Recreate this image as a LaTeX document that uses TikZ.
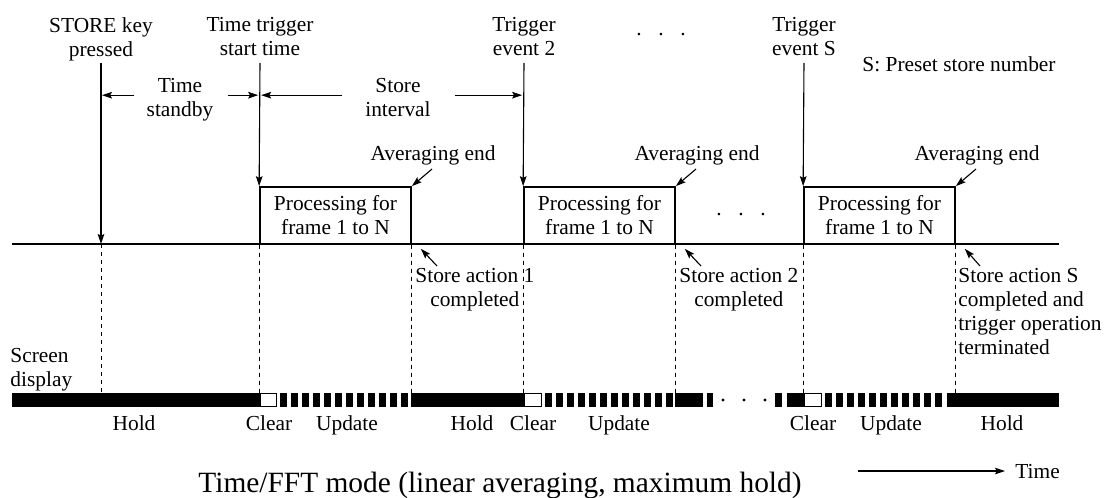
\documentclass[tikz,border=0pt]{standalone}
\usepackage{fontspec}
\setmainfont{Liberation Serif}
\usetikzlibrary{arrows.meta,positioning,calc}
\newcommand{\lblfont}{\fontsize{10.7}{12}\selectfont}
\newcommand{\capfont}{\fontsize{14.7}{17}\selectfont}
\tikzset{
  lbl/.style={align=center,inner sep=0pt,font=\lblfont},
  proc/.style={draw,line width=0.85pt,minimum width=75.5pt,minimum height=28.5pt,align=center,inner sep=0pt,font=\lblfont},
  ar/.style={-{Stealth[length=5pt,width=3.3pt,inset=0.9pt]},line width=0.55pt},
  guide/.style={line width=0.45pt,dash pattern=on 2pt off 2pt},
  axis/.style={line width=0.85pt},
  clr/.style={draw,fill=white,line width=0.5pt},
}

\begin{document}
\begin{tikzpicture}[x=0.5pt,y=-0.5pt]
\useasboundingbox (0,0) rectangle (1105,498);
% time axis
\coordinate (k) at (101,244);
\coordinate (a0) at (12,244);
\coordinate (a1) at (1059,244);
\coordinate (b0) at (12,393);
\draw[axis] (a0) -- (a1);

% processing blocks
\node[proc] (p1) at (335.5,215.5) {Processing for\\frame 1 to N};
\node[proc] (p2) at (599.5,215.5) {Processing for\\frame 1 to N};
\node[proc] (pS) at (879.5,215.5) {Processing for\\frame 1 to N};
\node[lbl,anchor=base] (dm) at (741,215) {.\hspace{8.3pt}.\hspace{8.3pt}.};

% events
\node[lbl,anchor=north] (kl) at (101,17) {STORE key\\pressed};
\node[lbl,anchor=north] (tl) at (260,17) {Time trigger\\start time};
\node[lbl,anchor=north] (l2) at (524,17) {Trigger\\event 2};
\node[lbl,anchor=north] (lS) at (804,17) {Trigger\\event S};
\node[lbl,anchor=base] (dt) at (661,35) {.\hspace{8.3pt}.\hspace{8.3pt}.};
\node[lbl,anchor=base west] (sn) at (862,71) {S: Preset store number};
\draw[ar] ([yshift=-23pt]kl.north) -- (k);
\draw[ar] ([yshift=-23pt]tl.north) -- (p1.north west);
\draw[ar] ([yshift=-23pt]l2.north) -- (p2.north west);
\draw[ar] ([yshift=-23pt]lS.north) -- (pS.north west);

% intervals
\node[lbl,anchor=north] (ts) at (180,78) {Time\\standby};
\draw[ar,shorten >=0.5pt] ([shift={(-6pt,2.3pt)}]ts.west) -- ([yshift=2.3pt]ts.west -| k);
\draw[ar,shorten >=0.5pt] ([shift={(7pt,2.3pt)}]ts.east) -- ([yshift=2.3pt]ts.east -| p1.north west);
\node[lbl,anchor=north] (si) at (398,78) {Store\\interval};
\draw[ar,shorten >=1pt] ([shift={(-11.7pt,1.2pt)}]si.west) -- ([yshift=1.2pt]si.west -| p1.north west);
\draw[ar,shorten >=0.5pt] ([shift={(12pt,1.2pt)}]si.east) -- ([yshift=1.2pt]si.east -| p2.north west);

% averaging end / store action
\node[lbl,anchor=base] (ae1) at (433,160) {Averaging end};
\node[lbl,anchor=base] (ae2) at (697,160) {Averaging end};
\node[lbl,anchor=base] (aeS) at (977,160) {Averaging end};
\draw[ar] ([shift={(-0.5pt,-2pt)}]ae1.south) -- (p1.north east);
\draw[ar] ([shift={(-0.5pt,-2pt)}]ae2.south) -- (p2.north east);
\draw[ar] ([shift={(-0.5pt,-2pt)}]aeS.south) -- (pS.north east);
\node[lbl,anchor=north west] (sa1) at (415,268) {Store action 1\\completed};
\node[lbl,anchor=north west] (sa2) at (679,268) {Store action 2\\completed};
\node[lbl,align=left,anchor=north west] (saS) at (958,268) {Store action S\\completed and\\trigger operation\\terminated};
\draw[ar] ([shift={(11pt,1pt)}]sa1.north west) -- ([shift={(4.5pt,-2pt)}]p1.south east);
\draw[ar] ([shift={(11pt,1pt)}]sa2.north west) -- ([shift={(4.5pt,-2pt)}]p2.south east);
\draw[ar] ([shift={(11pt,1pt)}]saS.north west) -- ([shift={(4.5pt,-2pt)}]pS.south east);

% guides down to the display bar
\foreach \n in {k,p1.south west,p1.south east,p2.south west,p2.south east,pS.south west,pS.south east}
  \draw[guide] (\n) -- (\n |- b0);

% display bar
\node[lbl,align=left,anchor=north west] (sd) at (10,348) {Screen\\display};
\fill (b0) rectangle (260,407);
\draw[clr] (260,393.5) rectangle (276,406.5);
\foreach \x in {280,291,...,401} \fill (\x,393) rectangle ++(7,14);
\fill (411,393) rectangle (524,407);
\draw[clr] (524,393.5) rectangle (541,406.5);
\foreach \x in {545,556,...,666} \fill (\x,393) rectangle ++(7,14);
\fill (675,393) rectangle (703,407);
\fill (707,393) rectangle (713,407);
\foreach \x in {723,744,765} \fill (\x,400) circle (0.8pt);
\fill (775,393) rectangle (782,407);
\fill (787,393) rectangle (804,407);
\draw[clr] (804,393.5) rectangle (821,406.5);
\foreach \x in {825,836,...,935} \fill (\x,393) rectangle ++(7,14);
\fill (947,393) rectangle (1059,407);

\node[lbl,anchor=base] (h1) at (134,430) {Hold};
\node[lbl,anchor=base] (c1) at (269,430) {Clear};
\node[lbl,anchor=base] (u1) at (347,430) {Update};
\node[lbl,anchor=base] (h2) at (472,430) {Hold};
\node[lbl,anchor=base] (c2) at (533,430) {Clear};
\node[lbl,anchor=base] (u2) at (619,430) {Update};
\node[lbl,anchor=base] (cS) at (813,430) {Clear};
\node[lbl,anchor=base] (uS) at (891,430) {Update};
\node[lbl,anchor=base] (h3) at (1002,430) {Hold};

% caption and time direction
\node[anchor=base,inner sep=0pt,font=\capfont] (cap) at (500,492) {Time/FFT mode (linear averaging, maximum hold)};
\node[lbl,anchor=base west] (tm) at (1015,478) {Time};
\draw[ar] ([xshift=-78.5pt]tm.west) -- ([xshift=-5pt]tm.west);
\end{tikzpicture}
\end{document}
